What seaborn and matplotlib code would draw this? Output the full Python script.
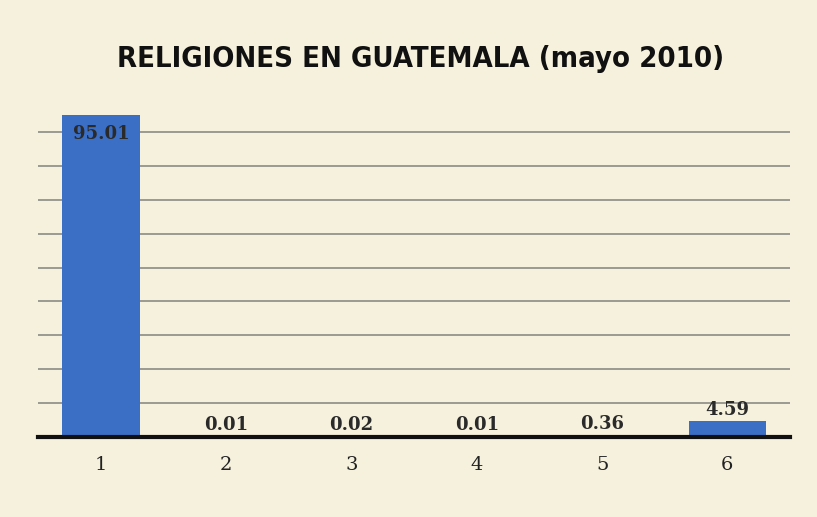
import matplotlib
matplotlib.use("Agg")
import matplotlib.pyplot as plt
import seaborn as sns
import pandas as pd

categories = ["1", "2", "3", "4", "5", "6"]
values = [95.01, 0.01, 0.02, 0.01, 0.36, 4.59]
labels = ["95.01", "0.01", "0.02", "0.01", "0.36", "4.59"]
title = "RELIGIONES EN GUATEMALA (mayo 2010)"

sns.set_theme(style="white")
plt.rcParams['font.family'] = ['DejaVu Sans']

bg = "#f6f1dd"
fig = plt.figure(figsize=(8.17, 5.17), dpi=100, facecolor=bg)
ax = fig.add_axes([0.047, 0.155, 0.92, 0.655])
ax.set_facecolor(bg)

df = pd.DataFrame({"cat": categories, "val": values})
sns.barplot(data=df, x="cat", y="val", color="#3b6fc6", width=0.62,
            saturation=1, linewidth=0, ax=ax, zorder=3)

ax.set_ylim(0, 100)
ax.set_yticks(range(0, 100, 10))
ax.set_yticklabels([])
ax.grid(axis="y", color="#8a8a86", linewidth=1.2, zorder=0)
ax.tick_params(axis="y", length=0)
for s in ["top", "right", "left"]:
    ax.spines[s].set_visible(False)
ax.spines["bottom"].set_color("#111111")
ax.spines["bottom"].set_linewidth(3)
ax.spines["bottom"].set_zorder(4)
ax.set_xlabel("")
ax.set_ylabel("")
ax.tick_params(axis="x", length=0, pad=14, labelsize=14, labelcolor="#222222")
for t in ax.get_xticklabels():
    t.set_family("DejaVu Serif")

for i, (v, lab) in enumerate(zip(values, labels)):
    if v > 50:
        ax.text(i, v - 3, lab, ha="center", va="top", fontsize=13,
                fontweight="bold", family="DejaVu Serif", color="#2a2a2a", zorder=5)
    else:
        ax.text(i, v + 0.8, lab, ha="center", va="bottom", fontsize=13,
                fontweight="bold", family="DejaVu Serif", color="#2a2a2a", zorder=5)

fig.text(0.515, 0.885, title, ha="center", va="center", fontsize=21,
         fontweight="bold", family="DejaVu Sans", fontstretch="condensed",
         color="#111111")

fig.savefig("out.png", dpi=100, facecolor=bg)
